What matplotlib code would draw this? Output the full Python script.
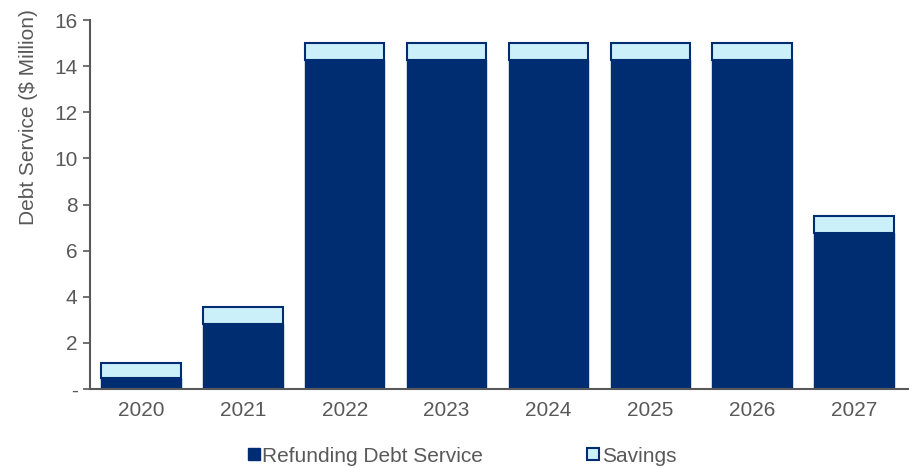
import matplotlib
matplotlib.use("Agg")
import matplotlib.pyplot as plt
from matplotlib.lines import Line2D

plt.rcParams['font.family'] = ['Liberation Sans', 'DejaVu Sans']

years = ["2020", "2021", "2022", "2023", "2024", "2025", "2026", "2027"]
refunding = [0.48, 2.80, 14.25, 14.25, 14.25, 14.25, 14.25, 6.75]
savings = [0.65, 0.76, 0.75, 0.75, 0.75, 0.75, 0.75, 0.75]

dark = "#002D72"
light = "#CCF0FA"
gray = "#595959"

fig = plt.figure(figsize=(9.09, 4.68), dpi=100)
ax = fig.add_axes([90/909, 79/468, 819/909, 369/468])

x = range(len(years))
ax.bar(x, refunding, width=0.78, color=dark, edgecolor=dark, linewidth=1, zorder=2)
ax.bar(x, savings, bottom=refunding, width=0.78, color=light, edgecolor=dark, linewidth=1.5, zorder=2)

ax.set_xlim(-0.5, 7.54)
ax.set_ylim(0, 16)
ax.set_yticks(range(0, 17, 2))
ax.set_yticklabels(["-"] + [str(v) for v in range(2, 17, 2)])
ax.set_xticks(list(x))
ax.set_xticklabels(years)
ax.tick_params(axis='both', colors=gray, labelsize=15, length=5, width=1.2)
ax.tick_params(axis='x', length=0, pad=9)
ax.tick_params(axis='y', pad=4)
for s in ["top", "right"]:
    ax.spines[s].set_visible(False)
for s in ["left", "bottom"]:
    ax.spines[s].set_color(gray)
    ax.spines[s].set_linewidth(1.5)
ax.set_ylabel("Debt Service ($ Million)", color=gray, fontsize=15)
ax.yaxis.set_label_coords(-0.064, 0.737)

handles = [
    Line2D([], [], marker='s', linestyle='none', markersize=8.5, markerfacecolor=dark, markeredgecolor=dark),
    Line2D([], [], marker='s', linestyle='none', markersize=8.5, markerfacecolor=light, markeredgecolor=dark, markeredgewidth=1.5),
]
leg = fig.legend(handles, ["Refunding Debt Service", "Savings"], loc='lower center',
                 bbox_to_anchor=(0.507, -0.035), ncol=2, frameon=False, fontsize=15,
                 handletextpad=0.0, columnspacing=4.9, handlelength=0.8)
for t in leg.get_texts():
    t.set_color(gray)

fig.savefig("out.png", dpi=100)
